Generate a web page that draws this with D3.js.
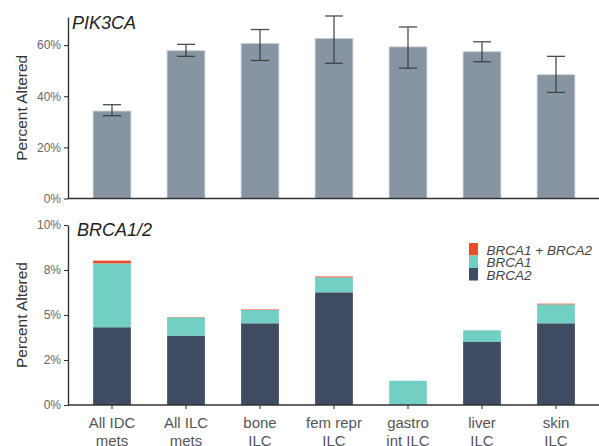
<!DOCTYPE html>
<html>
<head>
<meta charset="utf-8">
<script src="https://cdn.jsdelivr.net/npm/d3@7"></script>
<style>
  html, body { margin: 0; padding: 0; background: #fff; }
  svg { display: block; font-family: "Liberation Sans", Arial, Helvetica, sans-serif; }
</style>
</head>
<body>
<svg id="chart" width="599" height="446"></svg>
<script>
// ---- data ----
const categories = ["All IDC\nmets", "All ILC\nmets", "bone\nILC", "fem repr\nILC", "gastro\nint ILC", "liver\nILC", "skin\nILC"];
const pik3caValues = [34.2, 57.8, 60.6, 62.6, 59.3, 57.4, 48.4];
const pik3caLow    = [32.4, 55.6, 54.0, 52.9, 51.0, 53.5, 41.5];
const pik3caHigh   = [36.7, 60.3, 66.1, 71.4, 67.1, 61.3, 55.6];
const brca2Values  = [4.32, 3.85, 4.54, 6.26, 0.00, 3.50, 4.54];
const brca1Values  = [3.55, 1.02, 0.74, 0.83, 1.35, 0.65, 1.05];
const bothValues   = [0.15, 0.02, 0.03, 0.05, 0.00, 0.00, 0.04];
const topTicks = [0, 20, 40, 60];
const topTickLabels = ["0%", "20%", "40%", "60%"];
const bottomTicks = [0, 2.5, 5, 7.5, 10];
const bottomTickLabels = ["0%", "2%", "5%", "8%", "10%"];
const seriesNames = ["BRCA2", "BRCA1", "BRCA1 + BRCA2"];
const seriesColors = ["#3e4b61", "#72cfc3", "#ef4a2b"];

// ---- layout ----
const svg = d3.select("#chart");
const axisX = 68;
const axisColor = "#333";

const x = d3.scaleBand().domain(categories).range([75, 593])
  .paddingInner(0.49).paddingOuter(0.245);

const yTop = d3.scaleLinear().domain([0, 71]).range([198.5, 17]);
const yBot = d3.scaleLinear().domain([0, 10]).range([405, 225]);

function styleAxis(g) {
  g.select(".domain").attr("stroke", axisColor).attr("stroke-width", 1.4);
  g.selectAll(".tick line").attr("stroke", axisColor).attr("stroke-width", 1.1);
  g.selectAll(".tick text").attr("fill", "#666").attr("font-size", "12px");
}

// ===== top panel: PIK3CA =====
const topPanel = svg.append("g");
topPanel.selectAll("rect.bar").data(categories).join("rect")
  .attr("class", "bar")
  .attr("x", d => x(d))
  .attr("width", x.bandwidth())
  .attr("y", (d, i) => yTop(pik3caValues[i]))
  .attr("height", (d, i) => yTop(0) - yTop(pik3caValues[i]))
  .attr("fill", "#8795a3")
  .attr("stroke", "#c3cad1").attr("stroke-width", 0.8);

// error bars
const capW = 18;
const eb = topPanel.selectAll("g.err").data(categories).join("g").attr("class", "err")
  .attr("stroke", "#3a3a3a").attr("stroke-width", 1.3).attr("opacity", 0.9);
eb.append("line")
  .attr("x1", d => x(d) + x.bandwidth() / 2).attr("x2", d => x(d) + x.bandwidth() / 2)
  .attr("y1", (d, i) => yTop(pik3caLow[i])).attr("y2", (d, i) => yTop(pik3caHigh[i]));
eb.append("line")
  .attr("x1", d => x(d) + x.bandwidth() / 2 - capW / 2).attr("x2", d => x(d) + x.bandwidth() / 2 + capW / 2)
  .attr("y1", (d, i) => yTop(pik3caLow[i])).attr("y2", (d, i) => yTop(pik3caLow[i]));
eb.append("line")
  .attr("x1", d => x(d) + x.bandwidth() / 2 - capW / 2).attr("x2", d => x(d) + x.bandwidth() / 2 + capW / 2)
  .attr("y1", (d, i) => yTop(pik3caHigh[i])).attr("y2", (d, i) => yTop(pik3caHigh[i]));

// axes
topPanel.append("g").attr("transform", `translate(${axisX},0)`)
  .call(d3.axisLeft(yTop).tickValues(topTicks).tickSize(4).tickPadding(3)
    .tickFormat((d, i) => topTickLabels[i]).tickSizeOuter(0))
  .call(styleAxis);
topPanel.append("line").attr("x1", axisX).attr("x2", 599)
  .attr("y1", yTop(0)).attr("y2", yTop(0))
  .attr("stroke", axisColor).attr("stroke-width", 1.4);

topPanel.append("text").attr("x", 72).attr("y", 29)
  .attr("font-size", "18px").attr("font-style", "italic").attr("fill", "#222")
  .text("PIK3CA");
topPanel.append("text")
  .attr("transform", `translate(27,${(yTop(0) + yTop(71)) / 2}) rotate(-90)`)
  .attr("text-anchor", "middle").attr("font-size", "15.5px").attr("fill", "#333")
  .text("Percent Altered");

// ===== bottom panel: BRCA1/2 =====
const botPanel = svg.append("g");
const stackData = categories.map((c, i) => ({ cat: c, BRCA2: brca2Values[i], BRCA1: brca1Values[i], "BRCA1 + BRCA2": bothValues[i] }));
const stacked = d3.stack().keys(seriesNames)(stackData);

botPanel.selectAll("g.layer").data(stacked).join("g")
  .attr("class", "layer")
  .attr("fill", (d, i) => seriesColors[i])
  .selectAll("rect").data(d => d).join("rect")
  .attr("x", d => x(d.data.cat))
  .attr("width", x.bandwidth())
  .attr("y", d => yBot(d[1]))
  .attr("height", d => Math.max(0, yBot(d[0]) - yBot(d[1])));

botPanel.append("g").attr("transform", `translate(${axisX},0)`)
  .call(d3.axisLeft(yBot).tickValues(bottomTicks).tickSize(4).tickPadding(3)
    .tickFormat((d, i) => bottomTickLabels[i]).tickSizeOuter(0))
  .call(styleAxis);

const xAxis = botPanel.append("g").attr("transform", `translate(0,${yBot(0)})`)
  .call(d3.axisBottom(x).tickSize(4).tickSizeOuter(0).tickFormat(""));
xAxis.select(".domain").remove();
xAxis.selectAll(".tick line").attr("stroke", axisColor).attr("stroke-width", 1.1);
botPanel.append("line").attr("x1", axisX).attr("x2", 599)
  .attr("y1", yBot(0)).attr("y2", yBot(0))
  .attr("stroke", axisColor).attr("stroke-width", 1.4);

// x labels
const xl = botPanel.selectAll("text.xl").data(categories).join("text")
  .attr("class", "xl")
  .attr("text-anchor", "middle").attr("font-size", "15px").attr("fill", "#555")
  .attr("x", d => x(d) + x.bandwidth() / 2)
  .attr("y", 428);
xl.selectAll("tspan").data(d => d.split("\n")).join("tspan")
  .attr("x", function () { return d3.select(this.parentNode).attr("x"); })
  .attr("dy", (d, i) => i === 0 ? 0 : 18)
  .text(d => d);

botPanel.append("text").attr("x", 77).attr("y", 235.5)
  .attr("font-size", "18px").attr("font-style", "italic").attr("fill", "#222")
  .text("BRCA1/2");
botPanel.append("text")
  .attr("transform", `translate(27,${(yBot(0) + yBot(10)) / 2}) rotate(-90)`)
  .attr("text-anchor", "middle").attr("font-size", "15.5px").attr("fill", "#333")
  .text("Percent Altered");

// legend (top to bottom: both, BRCA1, BRCA2)
const legendOrder = [2, 1, 0];
const lg = botPanel.append("g").attr("transform", "translate(469,243)");
legendOrder.forEach((si, k) => {
  lg.append("rect").attr("x", 0).attr("y", k * 12.5).attr("width", 9).attr("height", 12.5)
    .attr("fill", seriesColors[si]);
  lg.append("text").attr("x", 17.5).attr("y", k * 12.5 + 11.5)
    .attr("font-size", "13.5px").attr("font-style", "italic").attr("fill", "#444")
    .text(seriesNames[si]);
});
</script>
</body>
</html>
